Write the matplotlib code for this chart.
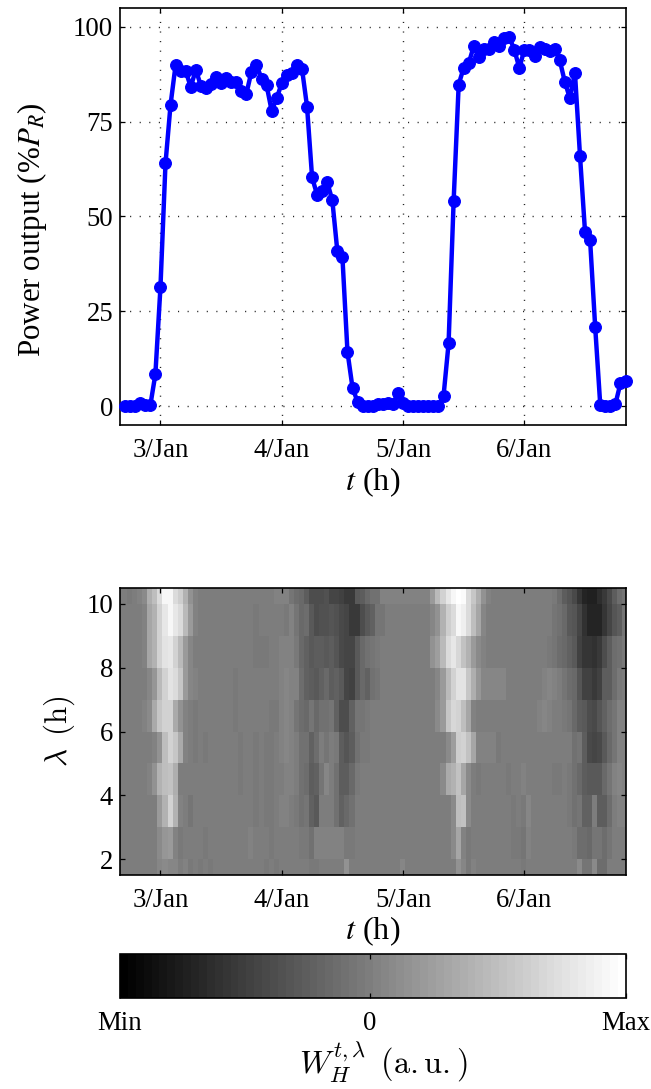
import numpy as np
import matplotlib
matplotlib.use('Agg')
import matplotlib.pyplot as plt
from matplotlib.colors import Normalize

plt.rcParams['font.family'] = ['Liberation Serif']

# Power output (%) hourly, hours 1..100
hours = list(range(1, 101))
power = [0, 0, 0, 0.8, 0.2, 0.2, 8.4, 31.3, 64, 79.5,
         90, 88.5, 88.3, 84.2, 88.7, 84.5, 84, 85, 86.8, 85.2,
         86.5, 85.4, 85.5, 83, 82.4, 88.2, 90, 86.4, 84.6, 77.9,
         81.2, 85.2, 87.4, 87.9, 90, 89, 79, 60.3, 55.7, 56.6,
         59, 54.3, 40.8, 39.3, 14.3, 4.8, 1.1, 0, 0, 0,
         0.5, 0.5, 0.7, 0.5, 3.5, 0.9, 0, 0, 0, 0,
         0, 0, 0, 2.6, 16.5, 54.1, 84.8, 89.3, 90.5, 95,
         92, 94.3, 94.3, 96, 94.9, 97, 97.4, 94, 89.2, 94,
         94, 92.4, 94.6, 94.3, 93.6, 94.2, 91.2, 85.5, 81.2, 87.9,
         66, 45.8, 43.7, 20.9, 0.4, 0, 0, 0.5, 6, 6.7]

tick_hours = [8, 32, 56, 80]
tick_days = ['3/Jan', '4/Jan', '5/Jan', '6/Jan']
power_ticks = [0, 25, 50, 75, 100]
scale_ticks = [2, 4, 6, 8, 10]

# Heat-map: grey levels, one list per scale band (top to bottom)
band_edges = [10.5, 10, 9, 8, 7, 6, 5, 4, 3, 2, 1.5]
time_edges = [0] + [c + 0.4 for c in range(1, 100)] + [100]
w_10 = [120,118,120,125,135,170,185,215,240,240, 215,200,175,140,125,120,120,120,120,120,
        120,120,120,120,120,122,122,122,122,122, 125,125,125,115,105,100,90,75,75,75,
        78,65,65,62,55,55,85,90,100,110, 110,125,125,125,125,125,125,125,125,125,
        125,150,180,205,225,240,250,245,215,195, 170,140,125,122,122,122,122,122,122,122,
        120,120,120,120,120,118,105,90,80,70, 50,35,30,30,40,55,70,90,105,115]
w_9 = [120,120,120,120,125,160,175,205,225,240, 225,215,180,150,125,120,120,120,120,120,
       120,120,120,120,120,120,118,122,122,122, 122,122,118,125,115,100,105,85,75,78,
       78,82,78,70,65,55,55,75,85,95, 115,115,122,122,122,122,122,122,122,122,
       122,130,140,175,200,215,240,235,215,185, 160,130,122,122,122,122,122,122,122,122,
       122,122,122,122,122,115,110,100,85,80, 65,45,35,32,35,50,65,80,90,115]
w_8 = [122,122,122,122,125,160,175,205,220,225, 205,180,150,130,122,122,122,122,122,122,
       122,122,122,122,122,122,118,118,118,122, 122,125,125,125,118,100,95,85,88,90,
       85,88,82,70,65,65,85,100,110,115, 118,122,122,122,122,122,122,122,122,122,
       122,140,155,180,215,225,210,190,175,150, 135,125,122,122,122,122,122,122,122,122,
       122,122,122,122,118,115,105,100,95,85, 60,50,50,45,55,75,90,105,110,118]
w_7 = [122,122,122,122,122,130,145,180,205,220, 215,195,150,130,125,122,122,122,122,122,
       122,122,118,120,122,122,122,122,122,122, 122,126,130,126,125,105,95,90,85,95,
       100,90,95,85,65,60,85,100,95,108, 115,122,122,122,122,122,122,122,122,122,
       122,122,130,150,180,205,220,220,195,170, 145,128,128,128,128,128,122,122,122,122,
       122,122,122,125,128,125,120,112,105,100, 80,60,60,55,60,90,90,105,118,122]
w_6 = [122,122,122,122,125,135,165,195,205,205, 165,140,125,120,118,120,122,122,122,122,
       122,122,118,122,122,122,122,122,122,118, 116,126,130,126,115,105,100,115,100,110,
       110,115,95,75,75,95,115,112,118,122, 122,122,122,122,122,122,122,122,122,122,
       122,122,135,150,195,210,205,185,160,125, 120,122,122,122,122,122,122,122,122,122,
       122,122,126,128,125,122,122,118,115,100, 90,85,75,70,80,95,105,115,125,125]
w_5 = [122,122,122,122,122,122,125,140,185,205, 195,165,125,120,116,122,116,122,122,122,
       122,122,122,118,122,122,118,122,118,118, 120,126,128,126,120,110,110,95,105,122,
       115,122,118,90,80,90,110,118,118,122, 122,122,122,122,122,122,122,122,122,122,
       122,122,122,122,135,155,200,205,190,160, 126,126,126,126,118,122,122,122,122,122,
       122,122,122,122,122,122,122,122,122,110, 115,90,70,65,70,85,100,112,125,125]
w_4 = [122,122,122,122,122,125,140,175,185,190, 170,120,122,122,122,122,122,122,122,122,
       122,122,122,118,122,122,118,122,116,116, 122,122,124,126,120,108,105,90,95,115,
       130,122,108,90,90,100,118,122,122,122, 122,122,122,122,122,122,122,122,122,122,
       122,122,122,135,165,175,190,160,135,120, 118,122,122,122,122,122,118,122,122,126,
       122,122,122,122,122,118,118,122,118,110, 100,90,85,85,85,100,115,125,128,125]
w_3 = [122,122,122,122,122,122,122,150,175,205, 175,125,122,114,122,122,122,122,122,122,
       122,122,122,122,122,122,118,122,116,118, 122,126,126,122,118,110,115,95,85,120,
       120,122,110,95,100,110,122,122,122,122, 122,122,122,122,122,122,122,122,122,122,
       122,122,122,122,122,135,185,190,135,122, 122,122,122,122,122,122,122,116,122,118,
       128,122,122,122,122,122,122,122,118,110, 112,95,95,120,90,90,105,120,125,125]
w_2 = [122,122,122,122,122,122,122,135,145,150, 125,118,122,122,122,122,118,122,122,122,
       122,122,122,122,122,124,122,122,122,116, 122,122,122,122,122,116,116,108,124,124,
       124,124,124,124,118,118,122,122,122,122, 122,122,122,122,122,122,122,122,122,122,
       122,122,122,122,122,135,160,125,118,122, 122,122,122,122,122,122,122,118,118,112,
       124,122,122,122,122,122,122,122,122,118, 105,105,100,112,112,105,115,122,122,122]
w_1 = [122,122,122,122,122,122,122,128,135,128, 130,122,125,118,122,116,122,118,122,122,
       122,122,122,122,122,122,122,122,118,122, 118,122,122,122,122,122,122,116,118,122,
       122,122,122,122,140,120,122,122,122,122, 122,122,122,122,122,128,122,122,122,122,
       122,122,122,122,122,122,140,130,118,125, 120,122,122,122,122,122,122,122,122,118,
       122,122,122,122,122,122,122,122,122,122, 135,115,115,135,105,105,122,122,122,122]
w_rows = [w_10, w_9, w_8, w_7, w_6, w_5, w_4, w_3, w_2, w_1]

W, H = 651, 1089
def box(l, t, r, b):
    return [l / W, 1 - b / H, (r - l) / W, (b - t) / H]

TICK = 19.3
LAB = 22.3
MF = 'stix'
cmap = plt.get_cmap('gray', 64)
norm = Normalize(-4, 251)

fig = plt.figure(figsize=(W / 100, H / 100), dpi=100, facecolor='white')

# Top
ax = fig.add_axes(box(120, 8, 625.5, 425))
ax.plot(hours, power, '-o', color=(0, 0, 1), lw=3.2, ms=8.4, mew=0.9, clip_on=False, zorder=3)
ax.set_xlim(0, 100)
ax.set_ylim(-5, 105)
ax.set_yticks(power_ticks)
ax.set_yticklabels([str(v) for v in power_ticks], fontsize=TICK)
ax.grid(True, color='#222222', lw=1.0, linestyle=(0, (0.8, 6.1)), dash_capstyle='butt')
ax.set_axisbelow(True)
ax.set_ylabel('Power output (%$P_R$)', fontsize=LAB, math_fontfamily=MF)
ax.yaxis.set_label_coords(-0.141, 0.469)

# Heat-map
ax2 = fig.add_axes(box(120, 588, 625.5, 875))
mesh = ax2.pcolormesh(time_edges, band_edges, np.array(w_rows, dtype=float), cmap=cmap, norm=norm, shading='flat')
ax2.set_xlim(0, 100)
ax2.set_ylim(1.5, 10.5)
ax2.set_yticks(scale_ticks)
ax2.set_yticklabels([str(v) for v in scale_ticks], fontsize=TICK)
ax2.set_ylabel(r'$\lambda\ \,(\mathrm{h})$', fontsize=LAB, math_fontfamily='cm')
ax2.yaxis.set_label_coords(-0.085, 0.5)

for a in (ax, ax2):
    a.set_xticks(tick_hours)
    a.set_xticklabels(tick_days, fontsize=TICK)
    a.tick_params(direction='in', length=3.6, width=0.9, top=True, right=True, colors='black')
    a.tick_params(axis='x', pad=9.5)
    a.tick_params(axis='y', pad=5)
    for s in a.spines.values():
        s.set_linewidth(1.2)
    a.set_xlabel('$t$ (h)', fontsize=LAB + 1, math_fontfamily=MF)
ax.xaxis.set_label_coords(0.5, -0.096)
ax2.xaxis.set_label_coords(0.5, -0.136)

# Colour bar
cax = fig.add_axes(box(120, 954, 625.5, 998))
cb = fig.colorbar(mesh, cax=cax, orientation='horizontal')
cb.set_ticks([-4, 122, 251])
cb.set_ticklabels(['Min', '0', 'Max'], fontsize=TICK)
cax.tick_params(direction='in', length=3.6, width=0.9, top=True, bottom=True, pad=9)
cb.outline.set_linewidth(1.2)
fig.text(383 / W, 1 - 1085 / H, r'$W_H^{t,\lambda}\ \,(\mathrm{a.u.})$', fontsize=23.2,
         math_fontfamily='cm', ha='center', va='bottom')

fig.savefig('out.png', dpi=100)
